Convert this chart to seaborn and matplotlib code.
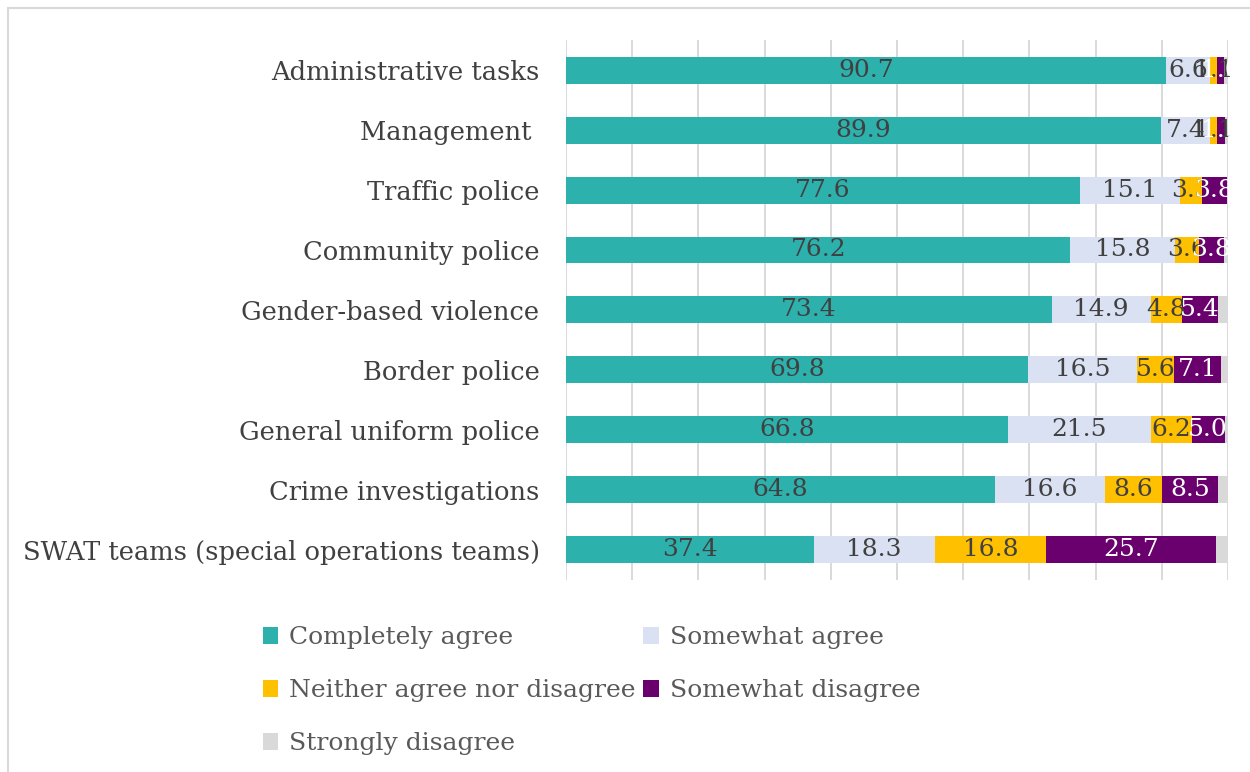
import matplotlib
matplotlib.use("Agg")
import matplotlib.pyplot as plt
from matplotlib.patches import Patch, Rectangle
import numpy as np
import pandas as pd
import seaborn as sns

# Survey responses (% of respondents) per police area
areas = [
    "Administrative tasks",
    "Management ",
    "Traffic police",
    "Community police",
    "Gender-based violence",
    "Border police",
    "General uniform police",
    "Crime investigations",
    "SWAT teams (special operations teams)",
]
completely_agree = [90.7, 89.9, 77.6, 76.2, 73.4, 69.8, 66.8, 64.8, 37.4]
somewhat_agree = [6.6, 7.4, 15.1, 15.8, 14.9, 16.5, 21.5, 16.6, 18.3]
neither = [1.1, 1.1, 3.3, 3.6, 4.8, 5.6, 6.2, 8.6, 16.8]
somewhat_disagree = [1.0, 1.1, 3.8, 3.8, 5.4, 7.1, 5.0, 8.5, 25.7]
strongly_disagree = [0.6, 0.5, 0.2, 0.6, 1.5, 1.0, 0.5, 1.5, 1.8]

series_names = [
    "Completely agree",
    "Somewhat agree",
    "Neither agree nor disagree",
    "Somewhat disagree",
    "Strongly disagree",
]
series_values = [completely_agree, somewhat_agree, neither,
                 somewhat_disagree, strongly_disagree]
colors = ["#2DB1AD", "#D9E1F2", "#FFC000", "#6A006E", "#D9D9D9"]
label_colors = ["#404040", "#404040", "#404040", "white", None]

sns.set_theme(style="white")
plt.rcParams["font.family"] = ["DejaVu Serif"]

fig = plt.figure(figsize=(12.5, 7.72), dpi=100)
ax = fig.add_axes([0.4528, 0.249, 0.5296, 0.699])

vals = np.array(series_values)
cum = np.cumsum(vals, axis=0)

# Stacked bars: draw cumulative totals from the longest to the shortest
for i in range(len(series_names) - 1, -1, -1):
    df = pd.DataFrame({"area": areas, "value": cum[i]})
    sns.barplot(data=df, x="value", y="area", orient="h", color=colors[i],
                saturation=1, width=0.45, linewidth=0, ax=ax, zorder=3)

# Segment value labels
for i in range(len(series_names)):
    if label_colors[i] is None:
        continue
    for j in range(len(areas)):
        center = cum[i][j] - vals[i][j] / 2
        ax.text(center, j, f"{vals[i][j]:.1f}", ha="center", va="center",
                fontsize=18, color=label_colors[i], zorder=5)

ax.set_xlim(0, 100)
ax.set_ylim(len(areas) - 0.5, -0.5)
ax.set_xticks(np.arange(0, 101, 10))
ax.set_xticklabels([])
ax.grid(axis="x", color="#D9D9D9", linewidth=1.4, zorder=0)
ax.grid(axis="y", visible=False)
ax.tick_params(axis="x", length=0)
ax.tick_params(axis="y", length=0, pad=19, labelsize=18.5, labelcolor="#404040")
ax.set_xlabel("")
ax.set_ylabel("")
for s in ax.spines.values():
    s.set_visible(False)

# Legend filled row by row in two columns
handles = [Patch(facecolor=c, edgecolor="none") for c in colors]
order = [0, 2, 4, 1, 3]
leg = fig.legend([handles[k] for k in order], [series_names[k] for k in order],
                 ncol=2, loc="upper left", bbox_to_anchor=(0.192, 0.218),
                 frameon=False, fontsize=18, handlelength=0.62,
                 handleheight=0.7, handletextpad=0.45, columnspacing=0.3,
                 labelspacing=1.2, labelcolor="#595959")

# Chart outer border
fig.add_artist(Rectangle((0.006, -0.05), 1.2, 1.04, transform=fig.transFigure,
                         fill=False, edgecolor="#D9D9D9", linewidth=1.5))

fig.savefig("out.png", dpi=100)
